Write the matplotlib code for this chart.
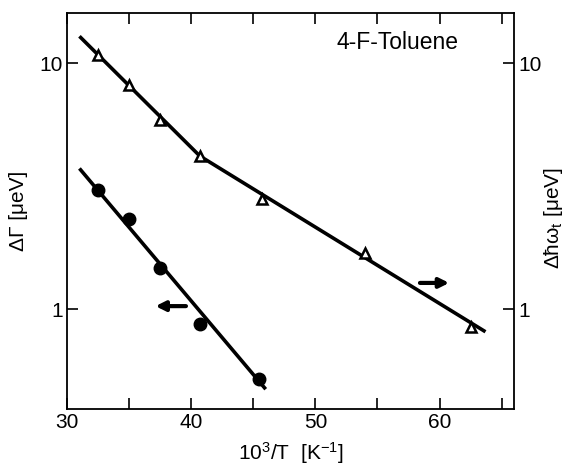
import matplotlib
matplotlib.use('Agg')
import matplotlib.pyplot as plt
from matplotlib.ticker import MultipleLocator, NullLocator

plt.rcParams['font.family'] = ['Liberation Sans', 'DejaVu Sans']
plt.rcParams['mathtext.fontset'] = 'custom'
plt.rcParams['mathtext.rm'] = 'Liberation Sans'
plt.rcParams['mathtext.it'] = 'Liberation Sans'

# triangles: delta hbar omega_t (right axis)
tri_x = [32.5, 35.0, 37.5, 40.7, 45.7, 54.0, 62.5]
tri_y = [10.8, 8.2, 5.9, 4.2, 2.82, 1.69, 0.85]
# fit line through triangles (kinked)
tri_fit_x = [31.0, 40.7, 63.7]
tri_fit_y = [12.9, 4.2, 0.81]

# circles: delta Gamma (left axis)
circ_x = [32.5, 35.0, 37.5, 40.7, 45.5]
circ_y = [3.07, 2.32, 1.47, 0.87, 0.52]
circ_fit_x = [31.0, 46.0]
circ_fit_y = [3.74, 0.473]

fs = 15

fig = plt.figure(figsize=(5.69, 4.68), dpi=100)
ax = fig.add_axes([0.1178, 0.1261, 0.7856, 0.8455])

ax.plot(tri_fit_x, tri_fit_y, color='black', lw=2.6, solid_capstyle='butt', zorder=2)
ax.plot(tri_x, tri_y, linestyle='none', marker='^', markersize=7.5, markerfacecolor='white',
        markeredgecolor='black', markeredgewidth=1.8, zorder=3)
ax.plot(circ_fit_x, circ_fit_y, color='black', lw=2.6, solid_capstyle='butt', zorder=2)
ax.plot(circ_x, circ_y, linestyle='none', marker='o', markersize=9, color='black', zorder=3)

# direction arrows
ax.annotate('', xy=(36.9, 1.03), xytext=(39.8, 1.03),
            arrowprops=dict(arrowstyle='-|>', color='black', lw=3, mutation_scale=14))
ax.annotate('', xy=(61.0, 1.28), xytext=(58.2, 1.28),
            arrowprops=dict(arrowstyle='-|>', color='black', lw=3, mutation_scale=14))

ax.text(56.6, 12.2, '4-F-Toluene', ha='center', va='center', fontsize=16.5)

ax.set_xlim(30, 66)
ax.set_yscale('log')
ax.set_ylim(0.393, 16)
ax.xaxis.set_major_locator(MultipleLocator(10))
ax.xaxis.set_minor_locator(MultipleLocator(5))
ax.set_yticks([1, 10])
ax.set_yticklabels(['1', '10'])
ax.yaxis.set_minor_locator(NullLocator())
ax.tick_params(which='both', direction='in', length=8, width=1.2, top=True, right=True,
               labelright=True, labelsize=fs, pad=3)

for s in ax.spines.values():
    s.set_linewidth(1.3)

ax.set_xlabel('10$^3$/T  [K$^{-1}$]', fontsize=fs, labelpad=6)
ax.set_ylabel('ΔΓ [μeV]', fontsize=fs, labelpad=8)
fig.text(0.972, 0.535, 'Δ$\\hbar\\omega_t$ [μeV]', rotation=90, ha='center', va='center', fontsize=fs)

fig.savefig('out.png', dpi=100)
